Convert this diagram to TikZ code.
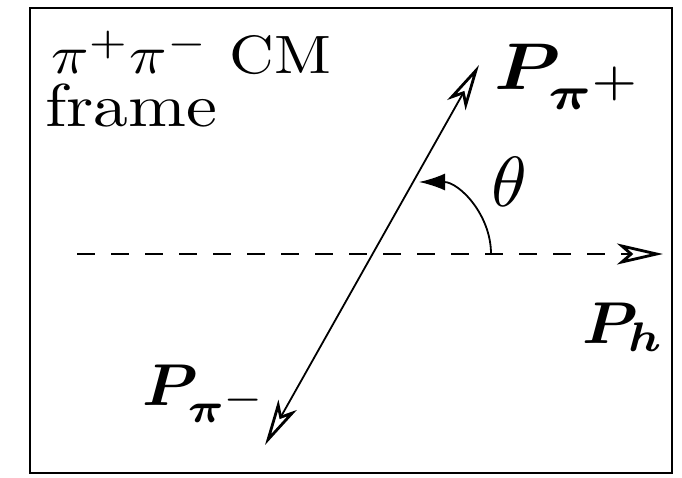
\documentclass[tikz,border=0pt]{standalone}
\usepackage{amsmath}
\usepackage{bm}
\usetikzlibrary{arrows.meta}

\tikzset{
  momline/.style={line width=1.8pt},
  momtip/.tip={Stealth[open,length=46pt,width=21pt,inset=12pt,line width=2.8pt]},
  momlabel/.style={anchor=base west,inner sep=0pt}
}
% wide letters, as in the drawing
\newcommand{\widetext}[3]{\scalebox{#1}[#2]{#3}}

\begin{document}
\begin{tikzpicture}[x=1pt,y=1pt]
\useasboundingbox (0,0) rectangle (682,477);
% frame of the CM system
\draw[line width=2pt] (30,4) rectangle (672,469);
\node[momlabel] (cmlabel) at (51,403) {\widetext{6.2}{5.4}{$\pi^+\pi^-$ CM}};
\node[momlabel] (framelabel) at (45,350) {\widetext{6.95}{6.05}{frame}};

\coordinate (hstart) at (77,223);
\coordinate (hend) at (663,223);
\coordinate (piptip) at (479,412);
\coordinate (pimtip) at (265,32);
\coordinate (arcstart) at (491,223);

% hadron direction and pion pair
\draw[momline,dash pattern=on 18pt off 16pt,-{momtip}] (hstart) -- (hend);
\draw[momline,{momtip}-{momtip}] (pimtip) -- (piptip);
\draw[momline,-{Latex[length=26pt,width=17pt]}] (arcstart) arc[start angle=0,end angle=90,radius=72];

\node[momlabel] (ppiplus) at (494,387) {\widetext{7.5}{6.6}{$\bm{P}_{\bm{\pi}^{\scriptstyle +}}$}};
\node[momlabel] (ppiminus) at (142,72) {\widetext{6.3}{5.9}{$\bm{P}_{\bm{\pi}^{\scriptstyle -}}$}};
\node[momlabel] (phadron) at (582,134) {\widetext{6.3}{5.9}{$\bm{P}_{\bm{h}}$}};
\node[momlabel] (theta) at (491,271) {\widetext{7.2}{7.1}{$\theta$}};
\end{tikzpicture}
\end{document}
